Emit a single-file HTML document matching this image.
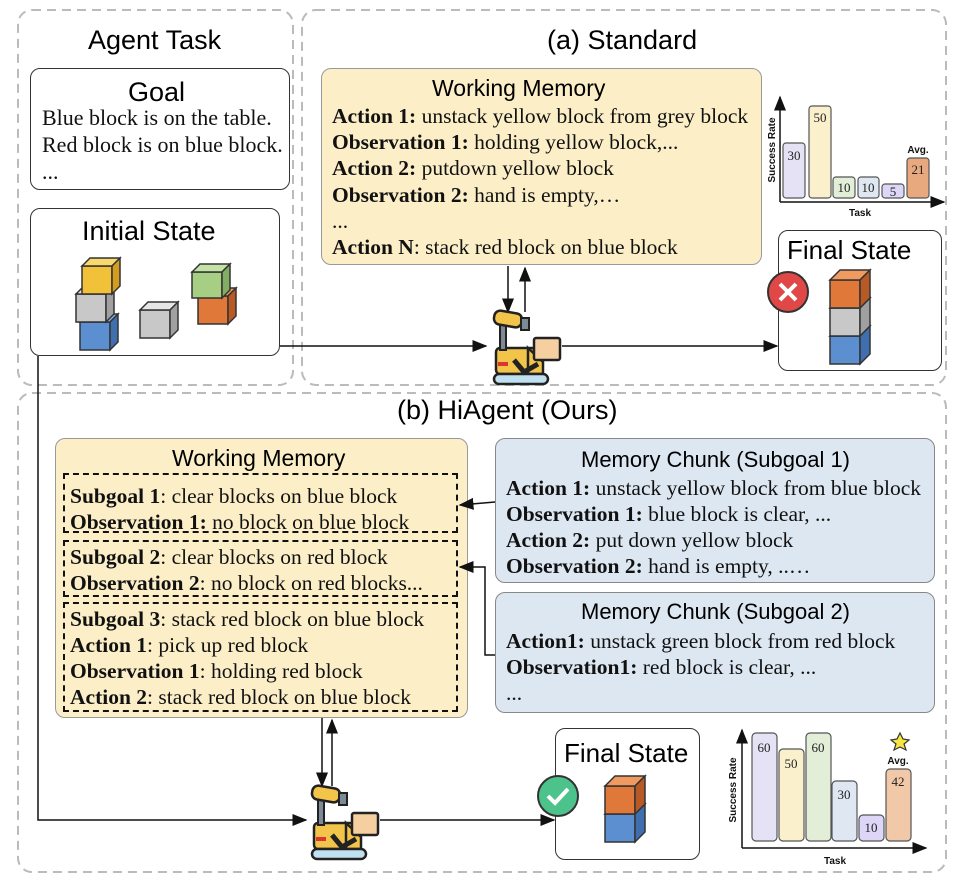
<!DOCTYPE html>
<html><head><meta charset="utf-8"><style>
body{margin:0;background:#fff;width:962px;height:888px;position:relative;overflow:hidden}
.t{position:absolute;white-space:nowrap;line-height:1}
.s{font-family:"Liberation Sans",sans-serif}
.r{font-family:"Liberation Serif",serif;font-size:21.5px;color:#111}
.box{position:absolute;border:1.5px solid #333;border-radius:10px;box-sizing:border-box}
</style></head><body>
<svg width="962" height="888" style="position:absolute;left:0;top:0">
<defs><marker id="a" markerWidth="10" markerHeight="8" refX="9" refY="4" orient="auto"><path d="M0,0 L10,4 L0,8 z" fill="#111"/></marker>
<g id="robot">
<rect x="8" y="38" width="40" height="26" rx="4" fill="#f2c44a" stroke="#222" stroke-width="2.5"/>
<path d="M40,38 L55,52 L55,64 L40,64z" fill="#f2c44a" stroke="#222" stroke-width="2.5"/>
<rect x="46" y="28" width="26" height="22" rx="2" fill="#f5cfa0" stroke="#222" stroke-width="2.5"/>
<rect x="6" y="64" width="54" height="10" rx="5" fill="#bfe0f0" stroke="#222" stroke-width="2.5"/>
<rect x="12" y="14" width="6" height="26" fill="#7d8b96" stroke="#222" stroke-width="2"/>
<rect x="6" y="2" width="28" height="14" rx="6" fill="#f2c44a" stroke="#222" stroke-width="2.5" transform="rotate(10 20 9)"/>
<rect x="33" y="8" width="8" height="12" fill="#7d8b96" stroke="#222" stroke-width="2"/>
<path d="M26,50 L36,62 L50,54" fill="none" stroke="#222" stroke-width="5"/>
<rect x="10" y="52" width="10" height="4" fill="#d33"/>
</g></defs>
<g fill="none" stroke="#bbb" stroke-width="2" stroke-dasharray="9,6">
<rect x="18" y="10" width="275" height="375" rx="14"/>
<rect x="302" y="10" width="644" height="375" rx="14"/>
<rect x="18" y="393" width="928" height="479" rx="14"/>
</g>
<g stroke="#111" stroke-width="1.5" fill="none" marker-end="url(#a)">
<path d="M280,346 L486,346"/>
<path d="M562,346 L777,346"/>
<path d="M38,356 L38,820 L306,820"/>
<path d="M380,820 L554,820"/>
<path d="M508,266 L508,312"/>
<path d="M525,312 L525,268"/>
<path d="M322,718 L322,786"/>
<path d="M332,786 L332,720"/>
<path d="M495,502 L460,505"/>
<path d="M495,655 L485,655 L485,567 L460,567"/>
<path d="M780,202 L780,97"/>
<path d="M780,202 L944,202"/>
<path d="M742,848 L742,730"/>
<path d="M742,848 L926,848"/>
</g>
<g stroke="#555" stroke-width="1.2">
<rect x="783" y="143" width="22" height="55" rx="3" fill="#e6e2f6"/>
<rect x="809" y="106" width="22" height="92" rx="3" fill="#fbf0cc"/>
<rect x="833" y="177" width="22" height="21" rx="3" fill="#e2eed8"/>
<rect x="858" y="177" width="21" height="21" rx="3" fill="#dfe8f2"/>
<rect x="882" y="184" width="22" height="14" rx="3" fill="#ddd6f6"/>
<rect x="907" y="158" width="22" height="40" rx="3" fill="#e9a97f"/>
<rect x="752" y="733" width="25" height="108" rx="4" fill="#e6e2f6"/>
<rect x="779" y="749" width="25" height="92" rx="4" fill="#fbf0cc"/>
<rect x="806" y="733" width="25" height="108" rx="4" fill="#e2eed8"/>
<rect x="832" y="781" width="25" height="60" rx="4" fill="#dfe8f2"/>
<rect x="859" y="815" width="25" height="26" rx="4" fill="#ddd6f6"/>
<rect x="886" y="769" width="25" height="72" rx="4" fill="#f2c9a8"/>
</g>
<polygon points="900,733 903,739 909,740 904,744 906,750 900,747 894,750 896,744 891,740 897,739" fill="#f5e642" stroke="#333" stroke-width="1.2"/>
<g font-family="Liberation Serif,serif" font-size="13" fill="#222" text-anchor="middle">
<text x="794" y="160">30</text><text x="820" y="122">50</text><text x="844" y="192">10</text><text x="868" y="192">10</text><text x="893" y="196">5</text><text x="918" y="174">21</text>
<text x="764" y="752">60</text><text x="791" y="768">50</text><text x="818" y="752">60</text><text x="844" y="799">30</text><text x="871" y="832">10</text><text x="898" y="786">42</text>
</g>
<g font-family="Liberation Sans,sans-serif" font-size="10" font-weight="bold" fill="#111" text-anchor="middle">
<text x="918" y="153">Avg.</text><text x="898" y="764">Avg.</text>
<text x="860" y="216">Task</text><text x="835" y="864">Task</text>
<text transform="translate(775,150) rotate(-90)">Success Rate</text>
<text transform="translate(736,790) rotate(-90)">Success Rate</text>
</g>
<g stroke="#333" stroke-width="1.5">
<g><rect x="80" y="322" width="30" height="28" fill="#5b8fd0"/><polygon points="80,322 88,314 118,314 110,322" fill="#8fb6e6"/><polygon points="110,322 118,314 118,342 110,350" fill="#3f6fae"/></g>
<g><rect x="76" y="294" width="30" height="28" fill="#c8c8c8"/><polygon points="76,294 84,286 114,286 106,294" fill="#e6e6e6"/><polygon points="106,294 114,286 114,314 106,322" fill="#a0a0a0"/></g>
<g><rect x="82" y="266" width="30" height="28" fill="#f2c13a"/><polygon points="82,266 90,258 120,258 112,266" fill="#f7d96e"/><polygon points="112,266 120,258 120,286 112,294" fill="#d39d20"/></g>
<g><rect x="140" y="310" width="30" height="28" fill="#c8c8c8"/><polygon points="140,310 148,302 178,302 170,310" fill="#e6e6e6"/><polygon points="170,310 178,302 178,330 170,338" fill="#a0a0a0"/></g>
<g><rect x="198" y="296" width="30" height="28" fill="#e0783a"/><polygon points="198,296 206,288 236,288 228,296" fill="#f09a60"/><polygon points="228,296 236,288 236,316 228,324" fill="#b85a25"/></g>
<g><rect x="192" y="272" width="30" height="26" fill="#a6cf84"/><polygon points="192,272 200,264 230,264 222,272" fill="#c4e2a8"/><polygon points="222,272 230,264 230,290 222,298" fill="#82ad62"/></g>
<g><rect x="830" y="336" width="30" height="28" fill="#5b8fd0"/><polygon points="830,336 840,326 870,326 860,336" fill="#8fb6e6"/><polygon points="860,336 870,326 870,354 860,364" fill="#3f6fae"/></g>
<g><rect x="830" y="308" width="30" height="28" fill="#c8c8c8"/><polygon points="830,308 840,298 870,298 860,308" fill="#e6e6e6"/><polygon points="860,308 870,298 870,326 860,336" fill="#a0a0a0"/></g>
<g><rect x="830" y="280" width="30" height="28" fill="#e0783a"/><polygon points="830,280 840,270 870,270 860,280" fill="#f09a60"/><polygon points="860,280 870,270 870,298 860,308" fill="#b85a25"/></g>
<g><rect x="605" y="814" width="30" height="28" fill="#5b8fd0"/><polygon points="605,814 615,804 645,804 635,814" fill="#8fb6e6"/><polygon points="635,814 645,804 645,832 635,842" fill="#3f6fae"/></g>
<g><rect x="605" y="786" width="30" height="28" fill="#e0783a"/><polygon points="605,786 615,776 645,776 635,786" fill="#f09a60"/><polygon points="635,786 645,776 645,804 635,814" fill="#b85a25"/></g>
</g>
<circle cx="788" cy="292" r="20" fill="#e04848" stroke="#333" stroke-width="2"/>
<path d="M780,284 L796,300 M796,284 L780,300" stroke="#fff" stroke-width="4"/>
<circle cx="558" cy="796" r="20" fill="#4cc38a" stroke="#333" stroke-width="2"/>
<path d="M548,796 L555,803 L568,789" stroke="#fff" stroke-width="4" fill="none"/>
<use href="#robot" x="488" y="310"/>
<use href="#robot" x="306" y="785"/>
</svg>

<div class="t s" style="left:88px;top:27px;font-size:27px">Agent Task</div>
<div class="t s" style="left:547px;top:27px;font-size:27px">(a) Standard</div>
<div class="box" style="left:30px;top:68px;width:260px;height:122px"></div>
<div class="t s" style="left:128px;top:79px;font-size:27px">Goal</div>
<div class="t r" style="left:42px;top:104px;font-size:22px;line-height:27px">Blue block is on the table.<br>Red block is on blue block.<br>...</div>
<div class="box" style="left:30px;top:208px;width:250px;height:148px"></div>
<div class="t s" style="left:82px;top:218px;font-size:27px">Initial State</div>

<div class="box" style="left:321px;top:68px;width:441px;height:197px;background:#fcefc8;border-color:#999;z-index:-1"></div>
<div class="t s" style="left:432px;top:77px;font-size:23px">Working Memory</div>
<div class="t r" style="left:332px;top:103px;line-height:26.2px">
<b>Action 1:</b> unstack yellow block from grey block<br><b>Observation 1:</b> holding yellow block,...<br><b>Action 2:</b> putdown yellow block<br><b>Observation 2:</b> hand is empty,…<br>...<br><b>Action N</b>: stack red block on blue block</div>
<div class="box" style="left:778px;top:230px;width:164px;height:141px;z-index:-1"></div>
<div class="t s" style="left:787px;top:237px;font-size:26px">Final State</div>

<div class="t s" style="left:397px;top:397px;font-size:27px">(b) HiAgent (Ours)</div>
<div class="box" style="left:55px;top:438px;width:413px;height:280px;background:#fcefc8;border-color:#999;z-index:-1"></div>
<div class="t s" style="left:172px;top:447px;font-size:23px">Working Memory</div>
<div class="box" style="left:63px;top:473px;width:395px;height:60px;border:2px dashed #111;border-radius:0"></div>
<div class="box" style="left:63px;top:540px;width:395px;height:57px;border:2px dashed #111;border-radius:0"></div>
<div class="box" style="left:63px;top:602px;width:395px;height:110px;border:2px dashed #111;border-radius:0"></div>
<div class="t r" style="left:70px;top:483px;line-height:26px"><b>Subgoal 1</b>: clear blocks on blue block<br><b>Observation 1:</b> no block on blue block</div>
<div class="t r" style="left:70px;top:544px;line-height:26px"><b>Subgoal 2</b>: clear blocks on red block<br><b>Observation 2</b>: no block on red blocks...</div>
<div class="t r" style="left:70px;top:606px;line-height:26px"><b>Subgoal 3</b>: stack red block on blue block<br><b>Action 1</b>: pick up red block<br><b>Observation 1</b>: holding red block<br><b>Action 2</b>: stack red block on blue block</div>

<div class="box" style="left:495px;top:438px;width:440px;height:145px;background:#dde7f2;border-color:#888;z-index:-1"></div>
<div class="t s" style="left:581px;top:449px;font-size:22px">Memory Chunk (Subgoal 1)</div>
<div class="t r" style="left:506px;top:475px;line-height:26px"><b>Action 1:</b> unstack yellow block from blue block<br><b>Observation 1:</b> blue block is clear, ...<br><b>Action 2:</b> put down yellow block<br><b>Observation 2:</b> hand is empty, ..…</div>
<div class="box" style="left:495px;top:592px;width:440px;height:121px;background:#dde7f2;border-color:#888;z-index:-1"></div>
<div class="t s" style="left:581px;top:601px;font-size:22px">Memory Chunk (Subgoal 2)</div>
<div class="t r" style="left:506px;top:628px;line-height:26px"><b>Action1:</b> unstack green block from red block<br><b>Observation1:</b> red block is clear, ...<br>...</div>

<div class="box" style="left:555px;top:728px;width:145px;height:132px;z-index:-1"></div>
<div class="t s" style="left:564px;top:740px;font-size:26px">Final State</div>
</body></html>
